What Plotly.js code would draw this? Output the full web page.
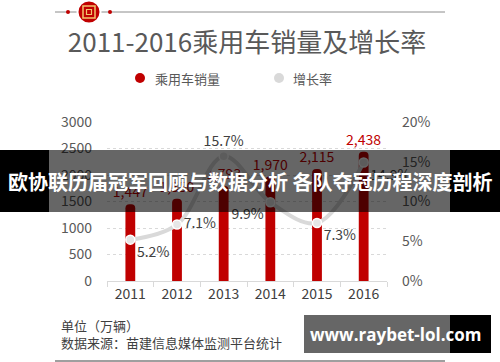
<!DOCTYPE html>
<html>
<head>
<meta charset="utf-8">
<script src="https://cdn.plot.ly/plotly-3.0.1.min.js"></script>
<style>html,body{margin:0;padding:0;background:#fff;}#chart{width:500px;height:362px;}</style>
</head>
<body>
<div id="chart"></div>
<script>
// ---- data ----
const years = ['2011', '2012', '2013', '2014', '2015', '2016'];
const sales = [1447, 1550, 1793, 1970, 2115, 2438];          // 万辆
const salesLabels = ['1,447', '1,550', '1,793', '1,970', '2,115', '2,438'];
const growth = [5.2, 7.1, 15.7, 9.9, 7.3, 14.9];              // %
const growthLabels = ['5.2%', '7.1%', '15.7%', '9.9%', '7.3%', '14.9%'];
const leftTicks = [0, 500, 1000, 1500, 2000, 2500, 3000];
const rightTicks = [0, 5, 10, 15, 20];
const rightTickText = ['0%', '5%', '10%', '15%', '20%'];
const chartTitle = '2011-2016乘用车销量及增长率';
const legendNames = ['乘用车销量', '增长率'];
const unitNote = '单位（万辆）';
const sourceNote = '数据来源：苗建信息媒体监测平台统计';
const bannerText = '欧协联历届冠军回顾与数据分析 各队夺冠历程深度剖析';
const watermark = 'www.raybet-lol.com';

// ---- layout helpers (pixel -> paper) ----
const W = 500, H = 362;
const M = {l: 107, r: 113, t: 122, b: 81};
const pw = W - M.l - M.r, ph = H - M.t - M.b;
const px = v => (v - M.l) / pw;
const py = v => (H - M.b - v) / ph;

const FONT = 'Noto Sans CJK SC, sans-serif';
const RED = '#c00000';
const GREY = '#d9d9d9';

const traces = [
  {
    type: 'bar', x: years, y: sales, name: legendNames[0],
    marker: {color: RED, cornerradius: '50%'},
    width: 0.21,
    text: salesLabels, textposition: 'outside', constraintext: 'none',
    textfont: {color: RED, size: 14, family: FONT},
    cliponaxis: false, showlegend: false, hoverinfo: 'skip'
  },
  {
    type: 'scatter', mode: 'lines+markers+text', x: years, y: growth, yaxis: 'y2',
    name: legendNames[1],
    line: {color: GREY, width: 4, shape: 'spline', smoothing: 1},
    marker: {color: '#e6e6e6', size: 9, line: {color: '#ffffff', width: 1.5}},
    text: growthLabels,
    textposition: ['bottom right', 'middle right', 'top center', 'bottom left', 'bottom right', 'bottom right'],
    textfont: {color: '#404040', size: 14, family: FONT},
    cliponaxis: false, showlegend: false, hoverinfo: 'skip'
  }
];

const shapes = [
  // top decorative line + logo
  {type: 'line', xref: 'paper', yref: 'paper', x0: px(55), x1: px(445), y0: py(12), y1: py(12), line: {color: '#8c8c8c', width: 1}},
  {type: 'circle', xref: 'paper', yref: 'paper', x0: px(66), x1: px(70), y0: py(10), y1: py(14), fillcolor: RED, line: {width: 0}},
  {type: 'circle', xref: 'paper', yref: 'paper', x0: px(108), x1: px(112), y0: py(10), y1: py(14), fillcolor: RED, line: {width: 0}},
  {type: 'circle', xref: 'paper', yref: 'paper', x0: px(77.5), x1: px(100.5), y0: py(0.5), y1: py(23.5), fillcolor: RED, line: {color: '#ffffff', width: 2}},
  {type: 'rect', xref: 'paper', yref: 'paper', x0: px(83), x1: px(95), y0: py(6), y1: py(18), fillcolor: 'rgba(0,0,0,0)', line: {color: '#f2c46d', width: 1.5}},
  {type: 'rect', xref: 'paper', yref: 'paper', x0: px(86.5), x1: px(91.5), y0: py(9.5), y1: py(14.5), fillcolor: 'rgba(0,0,0,0)', line: {color: '#f2c46d', width: 1.2}},
  // legend markers
  {type: 'circle', xref: 'paper', yref: 'paper', x0: px(135), x1: px(145), y0: py(73), y1: py(83), fillcolor: RED, line: {width: 0}},
  {type: 'circle', xref: 'paper', yref: 'paper', x0: px(274), x1: px(284), y0: py(73), y1: py(83), fillcolor: GREY, line: {width: 0}},
  // bottom line
  {type: 'line', xref: 'paper', yref: 'paper', x0: px(55), x1: px(445), y0: py(361), y1: py(361), line: {color: '#7f7f7f', width: 1.5}},
  // banner overlay
  {type: 'rect', xref: 'paper', yref: 'paper', x0: px(0), x1: px(49), y0: py(150), y1: py(212), fillcolor: '#000000', line: {width: 0}},
  {type: 'rect', xref: 'paper', yref: 'paper', x0: px(49), x1: px(450), y0: py(150), y1: py(212), fillcolor: 'rgba(0,0,0,0.6)', line: {width: 0}},
  {type: 'rect', xref: 'paper', yref: 'paper', x0: px(450), x1: px(500), y0: py(150), y1: py(212), fillcolor: '#000000', line: {width: 0}},
  // watermark box
  {type: 'rect', xref: 'paper', yref: 'paper', x0: px(304), x1: px(450), y0: py(315), y1: py(353), fillcolor: '#666666', line: {width: 0}},
  {type: 'rect', xref: 'paper', yref: 'paper', x0: px(450), x1: px(491), y0: py(315), y1: py(353), fillcolor: '#000000', line: {width: 0}}
];

const annotations = [
  {xref: 'paper', yref: 'paper', x: px(153), y: py(78), xanchor: 'left', yanchor: 'middle', text: legendNames[0], showarrow: false, font: {size: 13, color: '#595959', family: FONT}},
  {xref: 'paper', yref: 'paper', x: px(291), y: py(78), xanchor: 'left', yanchor: 'middle', text: legendNames[1], showarrow: false, font: {size: 13, color: '#595959', family: FONT}},
  {xref: 'paper', yref: 'paper', x: px(59), y: py(325), xanchor: 'left', yanchor: 'middle', text: unitNote, showarrow: false, font: {size: 13, color: '#404040', family: FONT}},
  {xref: 'paper', yref: 'paper', x: px(59), y: py(342), xanchor: 'left', yanchor: 'middle', text: sourceNote, showarrow: false, font: {size: 13, color: '#404040', family: FONT}},
  {xref: 'paper', yref: 'paper', x: px(250), y: py(181), xanchor: 'center', yanchor: 'middle', text: '<b>' + bannerText + '</b>', showarrow: false, font: {size: 20, color: '#ffffff', family: FONT}},
  {xref: 'paper', yref: 'paper', x: px(396), y: py(334), xanchor: 'center', yanchor: 'middle', text: '<b>' + watermark + '</b>', showarrow: false, font: {size: 17, color: '#ffffff', family: 'Open Sans, sans-serif'}}
];

const layout = {
  width: W, height: H,
  margin: M,
  paper_bgcolor: '#ffffff', plot_bgcolor: '#ffffff',
  font: {family: FONT, color: '#595959'},
  title: {text: chartTitle, font: {size: 26, color: '#595959', family: FONT}, x: 0.5, xanchor: 'center', xref: 'paper', yref: 'container', y: 1 - 43 / H, yanchor: 'middle'},
  showlegend: false,
  xaxis: {
    type: 'category', showgrid: false, zeroline: false,
    showline: true, linecolor: GREY, linewidth: 1,
    ticks: 'outside', tickson: 'boundaries', ticklen: 5, tickcolor: GREY,
    tickfont: {size: 14, color: '#404040', family: FONT}
  },
  yaxis: {
    range: [0, 3000], tickvals: leftTicks, showgrid: true, gridcolor: GREY, griddash: 'dot',
    zeroline: false, showline: false, ticks: '', ticklabelstandoff: 14,
    tickfont: {size: 14, color: '#595959', family: FONT}
  },
  yaxis2: {
    range: [0, 20], overlaying: 'y', side: 'right', tickvals: rightTicks, ticktext: rightTickText,
    showgrid: false, zeroline: false, showline: false, ticks: '', ticklabelstandoff: 14,
    tickfont: {size: 14, color: '#595959', family: FONT}
  },
  shapes: shapes,
  annotations: annotations
};

Plotly.newPlot('chart', traces, layout, {staticPlot: true, displayModeBar: false});
</script>
</body>
</html>
